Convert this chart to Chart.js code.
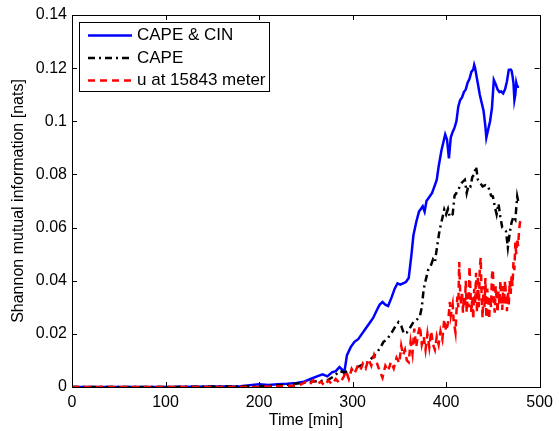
<!DOCTYPE html>
<html>
<head>
<meta charset="utf-8">
<script src="https://cdn.jsdelivr.net/npm/chart.js@4/dist/chart.umd.min.js"></script>
<style>
  html, body { margin: 0; padding: 0; background: #fff; }
  #wrap { width: 559px; height: 431px; }
</style>
</head>
<body>
<div id="wrap"><canvas id="chart"></canvas></div>
<script>
const seriesNames = ['CAPE & CIN', 'CAPE', 'u at 15843 meter']

const capeCinTime = [0, 100, 180, 200, 210, 220, 230, 240, 248, 255, 262, 268, 273, 278, 282, 286, 289, 291, 294, 298, 302, 306, 310, 314, 318, 322, 326, 329, 332, 335, 338, 342, 345, 348, 351, 354, 357, 360, 363, 365, 368, 371, 373, 375, 377, 379, 382, 385, 388, 390, 392, 395, 397, 399, 401, 403, 405, 407, 409, 411, 413, 415, 417, 419, 421, 423, 425, 427, 429, 430, 431, 432, 434, 436, 438, 440, 442, 443, 445, 447, 449, 451, 453, 455, 457, 459, 461, 463, 465, 467, 469, 470, 471, 472, 473, 474, 475, 476, 478]
const capeCinValues = [0, 0, 0.0003, 0.001, 0.0008, 0.001, 0.0012, 0.0015, 0.002, 0.003, 0.004, 0.0048, 0.004, 0.0055, 0.006, 0.0075, 0.0065, 0.0052, 0.012, 0.015, 0.017, 0.018, 0.02, 0.022, 0.024, 0.026, 0.029, 0.031, 0.032, 0.031, 0.0305, 0.034, 0.037, 0.039, 0.0385, 0.039, 0.0395, 0.041, 0.05, 0.057, 0.062, 0.066, 0.067, 0.068, 0.066, 0.07, 0.0715, 0.073, 0.076, 0.078, 0.083, 0.089, 0.092, 0.095, 0.093, 0.086, 0.094, 0.096, 0.0976, 0.1, 0.1055, 0.108, 0.109, 0.111, 0.112, 0.1145, 0.116, 0.1186, 0.1195, 0.1212, 0.12, 0.118, 0.114, 0.11, 0.107, 0.104, 0.098, 0.0938, 0.097, 0.1, 0.105, 0.1156, 0.114, 0.112, 0.111, 0.1112, 0.1105, 0.112, 0.115, 0.1194, 0.1195, 0.119, 0.117, 0.1145, 0.108, 0.11, 0.1145, 0.113, 0.113]

const capeTime = [0, 100, 200, 230, 245, 255, 265, 273, 280, 286, 291, 296, 302, 308, 316, 321, 326, 330, 333, 337, 342, 346, 349, 352, 355, 358, 361, 365, 368, 372, 374, 376, 378, 381, 384, 386, 388, 390, 393, 395, 398, 400, 402, 404, 407, 409, 411, 414, 417, 420, 422, 424, 426, 428, 430, 432, 434, 436, 439, 442, 445, 448, 450, 452, 454, 456, 458, 460, 462, 464, 466, 468, 470, 472, 474, 476, 477]
const capeValues = [0, 0, 0.0003, 0.0008, 0.0015, 0.002, 0.0022, 0.0025, 0.004, 0.006, 0.0055, 0.006, 0.0068, 0.008, 0.0093, 0.011, 0.013, 0.015, 0.017, 0.018, 0.0206, 0.023, 0.0244, 0.023, 0.02, 0.0205, 0.022, 0.0244, 0.025, 0.0267, 0.03, 0.0368, 0.04, 0.0443, 0.046, 0.048, 0.047, 0.052, 0.059, 0.062, 0.0668, 0.065, 0.067, 0.064, 0.065, 0.072, 0.073, 0.075, 0.077, 0.078, 0.073, 0.076, 0.0755, 0.079, 0.08, 0.083, 0.078, 0.077, 0.0755, 0.076, 0.0755, 0.072, 0.0717, 0.068, 0.065, 0.069, 0.064, 0.06, 0.0593, 0.0586, 0.0525, 0.058, 0.062, 0.064, 0.063, 0.0717, 0.07]

// u at 15843 m flickers minute to minute, so it is read densely
const uTime = [0, 100, 200, 240, 245, 250, 254, 258, 262, 266, 270, 274, 278, 282, 286, 290, 293, 296, 299, 302, 305, 308, 311, 314, 317, 320, 323, 326, 329, 332, 335, 338, 341, 344, 347, 350, 352, 354, 356, 358, 360, 362, 364, 366, 368, 370, 372, 374, 376, 378, 380, 382, 384, 386, 388, 390, 392, 394, 396, 398, 400, 402, 404, 405, 407, 408, 410, 411, 412, 413, 414, 415, 416, 417, 418, 419, 420, 421, 422, 423, 424, 425, 426, 427, 428, 429, 430, 431, 432, 433, 434, 435, 436, 437, 438, 439, 440, 441, 442, 443, 444, 445, 446, 447, 448, 449, 450, 451, 452, 453, 454, 455, 456, 457, 458, 459, 460, 461, 462, 463, 464, 465, 466, 467, 468, 469, 470, 471, 472, 473, 474, 475, 476, 477, 478, 479, 480]
const uValues = [0, 0, 0, 0.0005, 0.001, 0.002, 0.001, 0.0025, 0.001, 0.002, 0.0005, 0.0025, 0.001, 0.003, 0.0015, 0.0035, 0.006, 0.003, 0.0068, 0.005, 0.0075, 0.006, 0.0088, 0.007, 0.0105, 0.008, 0.012, 0.009, 0.006, 0.0035, 0.008, 0.006, 0.0095, 0.007, 0.011, 0.009, 0.0155, 0.012, 0.014, 0.01, 0.0093, 0.017, 0.0125, 0.022, 0.015, 0.02, 0.023, 0.016, 0.019, 0.014, 0.02, 0.015, 0.021, 0.016, 0.014, 0.019, 0.016, 0.021, 0.018, 0.0255, 0.021, 0.024, 0.032, 0.027, 0.031, 0.025, 0.0206, 0.028, 0.034, 0.03, 0.047, 0.036, 0.031, 0.036, 0.028, 0.034, 0.03, 0.04, 0.028, 0.035, 0.03, 0.0455, 0.036, 0.028, 0.034, 0.0255, 0.037, 0.031, 0.043, 0.028, 0.042, 0.03, 0.045, 0.0487, 0.033, 0.026, 0.038, 0.03, 0.041, 0.026, 0.037, 0.03, 0.0255, 0.034, 0.03, 0.042, 0.0443, 0.032, 0.028, 0.038, 0.033, 0.028, 0.036, 0.031, 0.04, 0.033, 0.029, 0.038, 0.031, 0.04, 0.034, 0.0285, 0.036, 0.031, 0.04, 0.035, 0.042, 0.038, 0.047, 0.044, 0.0544, 0.05, 0.056, 0.053, 0.059, 0.062, 0.064]

const xTicks = [0, 100, 200, 300, 400, 500]
const yTicks = [0, 0.02, 0.04, 0.06, 0.08, 0.1, 0.12, 0.14]

const FONT = '"Liberation Sans", Arial, Helvetica, sans-serif'

const toPoints = (t, v) => t.map((x, i) => ({ x, y: v[i] }))

// MATLAB style box with inward ticks on all four sides
const boxPlugin = {
  id: 'box',
  afterDatasetsDraw(chart) {
    const { ctx, chartArea: a, scales } = chart
    ctx.save()
    ctx.strokeStyle = '#000'
    ctx.lineWidth = 1
    ctx.beginPath()
    xTicks.forEach(v => {
      const px = Math.round(scales.x.getPixelForValue(v)) + 0.5
      ctx.moveTo(px, a.bottom); ctx.lineTo(px, a.bottom - 5)
      ctx.moveTo(px, a.top); ctx.lineTo(px, a.top + 5)
    })
    yTicks.forEach(v => {
      const py = Math.round(scales.y.getPixelForValue(v)) + 0.5
      ctx.moveTo(a.left, py); ctx.lineTo(a.left + 5, py)
      ctx.moveTo(a.right, py); ctx.lineTo(a.right - 5, py)
    })
    ctx.stroke()
    ctx.strokeRect(Math.round(a.left) + 0.5, Math.round(a.top) + 0.5,
      Math.round(a.right - a.left), Math.round(a.bottom - a.top))
    ctx.restore()
  }
}

// legend box in the upper left corner of the axes
const legendPlugin = {
  id: 'boxLegend',
  afterDraw(chart) {
    const { ctx, chartArea: a } = chart
    const x0 = a.left + 7, y0 = a.top + 7, w = 190, h = 69
    ctx.save()
    ctx.fillStyle = '#fff'
    ctx.fillRect(x0, y0, w, h)
    ctx.beginPath()
    ctx.rect(x0 + 0.5, y0 + 0.5, w, h)
    ctx.clip()
    ctx.font = '17px ' + FONT
    ctx.textBaseline = 'middle'
    chart.data.datasets.forEach((ds, i) => {
      const y = y0 + 13.5 + i * 22.5
      ctx.strokeStyle = ds.borderColor
      ctx.lineWidth = ds.borderWidth
      ctx.setLineDash(ds.borderDash || [])
      ctx.beginPath()
      ctx.moveTo(x0 + 9, y); ctx.lineTo(x0 + 53, y)
      ctx.stroke()
      ctx.setLineDash([])
      ctx.fillStyle = '#000'
      ctx.fillText(ds.label, x0 + 58, y)
    })
    ctx.restore()
    ctx.save()
    ctx.strokeStyle = '#000'
    ctx.lineWidth = 1
    ctx.strokeRect(x0 + 0.5, y0 + 0.5, w, h)
    ctx.restore()
  }
}

new Chart(document.getElementById('chart'), {
  type: 'line',
  data: {
    datasets: [
      {
        label: seriesNames[0],
        data: toPoints(capeCinTime, capeCinValues),
        borderColor: '#0000ff',
        borderWidth: 2.5,
        order: 3
      },
      {
        label: seriesNames[1],
        data: toPoints(capeTime, capeValues),
        borderColor: '#000000',
        borderWidth: 2.5,
        borderDash: [7, 4, 2, 4],
        order: 2
      },
      {
        label: seriesNames[2],
        data: toPoints(uTime, uValues),
        borderColor: '#ff0000',
        borderWidth: 2.5,
        borderDash: [7, 5],
        order: 1
      }
    ]
  },
  options: {
    responsive: true,
    maintainAspectRatio: false,
    animation: false,
    layout: { padding: { left: 0, right: 15, top: 15, bottom: 0 } },
    elements: { point: { radius: 0 }, line: { tension: 0 } },
    plugins: { legend: { display: false }, tooltip: { enabled: false } },
    scales: {
      x: {
        type: 'linear',
        min: 0,
        max: 500,
        afterFit: s => { s.height = 44 },
        afterBuildTicks: s => { s.ticks = xTicks.map(value => ({ value })) },
        grid: { display: false, drawTicks: false },
        border: { display: false },
        ticks: { color: '#000', padding: 6, maxRotation: 0, font: { family: FONT, size: 16 } },
        title: { display: true, text: 'Time [min]', color: '#000', padding: { top: 0, bottom: 1 }, font: { family: FONT, size: 16 } }
      },
      y: {
        min: 0,
        max: 0.14,
        afterFit: s => { s.width = 72 },
        afterBuildTicks: s => { s.ticks = yTicks.map(value => ({ value })) },
        grid: { display: false, drawTicks: false },
        border: { display: false },
        ticks: {
          color: '#000',
          padding: 5,
          font: { family: FONT, size: 16 },
          callback: v => String(+v.toFixed(2))
        },
        title: { display: true, text: 'Shannon mutual information [nats]', color: '#000', padding: { top: 9, bottom: 0 }, font: { family: FONT, size: 16 } }
      }
    }
  },
  plugins: [boxPlugin, legendPlugin]
})
</script>
</body>
</html>
